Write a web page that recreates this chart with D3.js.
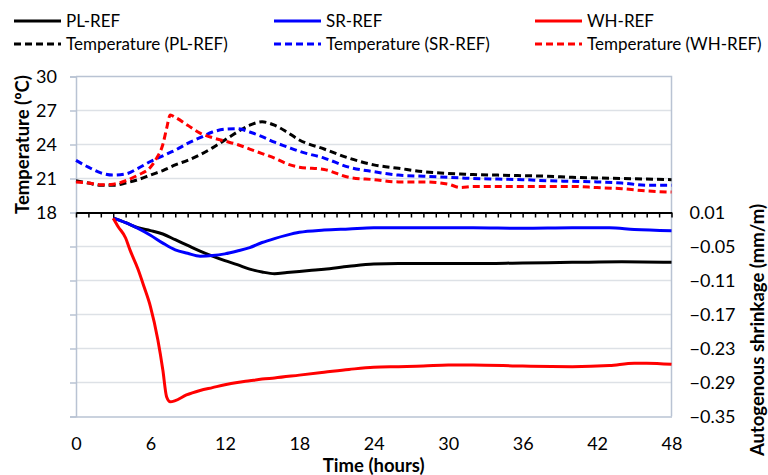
<!DOCTYPE html>
<html>
<head>
<meta charset="utf-8">
<script src="https://cdn.jsdelivr.net/npm/d3@7"></script>
<style>
  body { margin: 0; background: #fff; }
  svg text { font-family: Lato, "Open Sans", sans-serif; fill: #000; }
</style>
</head>
<body>
<div id="chart"></div>
<script>
// temperature (ºC), shared hours
var tempHours = [0, 1, 2, 3, 4, 5, 6, 6.5, 7, 7.3, 7.6, 8, 9, 10, 11, 12, 13, 14, 15, 16, 17, 18, 20, 22, 24, 26, 28, 30, 31, 32, 34, 36, 38, 40, 42, 44, 46, 48];
var tempPL = [20.8, 20.6, 20.4, 20.4, 20.6, 20.9, 21.3, 21.5, 21.7, 21.85, 22.0, 22.2, 22.6, 23.1, 23.7, 24.4, 25.1, 25.7, 26.0, 25.7, 25.1, 24.4, 23.6, 22.8, 22.2, 21.9, 21.6, 21.45, 21.4, 21.35, 21.3, 21.25, 21.2, 21.1, 21.05, 21.0, 20.95, 20.9];
var tempSR = [22.6, 22.0, 21.5, 21.3, 21.4, 21.9, 22.5, 22.75, 23.0, 23.15, 23.3, 23.5, 24.1, 24.6, 25.1, 25.35, 25.4, 25.1, 24.7, 24.2, 23.8, 23.4, 22.8, 22.0, 21.6, 21.3, 21.2, 21.1, 21.05, 21.0, 20.95, 20.9, 20.8, 20.75, 20.7, 20.6, 20.4, 20.4];
var tempWH = [20.7, 20.6, 20.45, 20.5, 20.8, 21.3, 22.0, 22.8, 24.0, 25.4, 26.6, 26.4, 25.7, 25.0, 24.6, 24.3, 24.0, 23.6, 23.2, 22.8, 22.3, 22.0, 21.8, 21.1, 20.9, 20.7, 20.7, 20.5, 20.2, 20.3, 20.3, 20.3, 20.3, 20.3, 20.2, 20.1, 19.9, 19.8];

// autogenous shrinkage (mm/m)
var plHours = [3, 4, 5, 6, 7, 8, 9, 10, 11, 12, 13, 14, 15, 16, 17, 18, 19, 20, 22, 24, 26, 28, 30, 32, 36, 40, 44, 48];
var plShrink = [0.0, -0.008, -0.017, -0.022, -0.028, -0.038, -0.048, -0.058, -0.067, -0.075, -0.082, -0.090, -0.095, -0.098, -0.096, -0.094, -0.092, -0.090, -0.085, -0.081, -0.080, -0.080, -0.080, -0.080, -0.079, -0.078, -0.077, -0.078];
var srHours = [3, 4, 5, 6, 7, 8, 9, 10, 11, 12, 13, 14, 15, 16, 17, 18, 20, 22, 24, 28, 32, 36, 40, 43, 45, 48];
var srShrink = [0.0, -0.008, -0.018, -0.030, -0.044, -0.056, -0.062, -0.067, -0.066, -0.063, -0.058, -0.052, -0.043, -0.036, -0.030, -0.025, -0.021, -0.019, -0.017, -0.017, -0.017, -0.018, -0.017, -0.017, -0.020, -0.022];
var whHours = [3, 3.4, 4, 4.35, 5, 5.5, 6, 6.6, 7, 7.3, 7.6, 8, 8.9, 10, 11, 12, 13, 14, 15, 16, 18, 20, 22, 24, 26, 28, 30, 32, 36, 40, 43, 45, 46, 48];
var whShrink = [0.0, -0.015, -0.035, -0.056, -0.090, -0.122, -0.156, -0.215, -0.268, -0.315, -0.324, -0.322, -0.312, -0.304, -0.299, -0.294, -0.290, -0.287, -0.284, -0.282, -0.277, -0.272, -0.267, -0.263, -0.262, -0.261, -0.259, -0.259, -0.261, -0.262, -0.260, -0.256, -0.256, -0.258];

var timeTicks = [0, 6, 12, 18, 24, 30, 36, 42, 48];
var tempTicks = [0, 3, 6, 9, 12, 15, 18, 21, 24, 27, 30];
var shrinkTicks = [0.01, -0.05, -0.11, -0.17, -0.23, -0.29, -0.35];

var series = [
  { name: "PL-REF", hours: plHours, vals: plShrink, color: "#000000", dash: null, axis: "s" },
  { name: "SR-REF", hours: srHours, vals: srShrink, color: "#0000ff", dash: null, axis: "s" },
  { name: "WH-REF", hours: whHours, vals: whShrink, color: "#ff0000", dash: null, axis: "s" },
  { name: "Temperature (PL-REF)", hours: tempHours, vals: tempPL, color: "#000000", dash: "7,4", axis: "t" },
  { name: "Temperature (SR-REF)", hours: tempHours, vals: tempSR, color: "#0000ff", dash: "7,4", axis: "t" },
  { name: "Temperature (WH-REF)", hours: tempHours, vals: tempWH, color: "#ff0000", dash: "7,4", axis: "t" }
];

var W = 768, H = 475;
var plotL = 76, plotR = 671.5, plotT = 76.5, plotB = 416.5;

var svg = d3.select("#chart").append("svg")
    .attr("width", W)
    .attr("height", H);

var x = d3.scaleLinear().domain([0, 48]).range([plotL, plotR]);
var yT = d3.scaleLinear().domain([0, 30]).range([plotB, plotT]);
var yS = d3.scaleLinear().domain([-0.35, 0.25]).range([plotB, plotT]);

// gridlines
svg.append("g")
    .selectAll("line")
    .data(tempTicks.filter(function (d) { return d > 0 && d < 30 && d != 18; }))
    .enter()
    .append("line")
    .attr("x1", plotL).attr("x2", plotR)
    .attr("y1", function (d) { return yT(d); })
    .attr("y2", function (d) { return yT(d); })
    .style("stroke", "#dde1e6")
    .style("stroke-width", 1.5);

// border (top + right)
svg.append("path")
    .attr("d", "M" + plotL + "," + plotT + "H" + plotR + "V" + plotB)
    .style("fill", "none")
    .style("stroke", "#b9c3d3")
    .style("stroke-width", 1.5);

// left axis
var yaxis = svg.append("g")
    .attr("transform", "translate(" + plotL + ",0)")
    .call(d3.axisLeft(yT).tickValues(tempTicks).tickSize(6).tickPadding(13)
        .tickFormat(function (d) { return d >= 18 ? d : ""; }));
yaxis.select(".domain").style("stroke", "#b9c3d3").style("stroke-width", 1.5);
yaxis.selectAll(".tick line").style("stroke", "#b9c3d3").style("stroke-width", 1.5);
yaxis.selectAll("text").style("font-size", "18px");

// right axis
var saxis = svg.append("g")
    .attr("transform", "translate(" + plotR + ",0)")
    .call(d3.axisRight(yS).tickValues(shrinkTicks).tickSize(0).tickPadding(18)
        .tickFormat(d3.format(".2f")));
saxis.select(".domain").remove();
saxis.selectAll("text").style("font-size", "18px");

// bottom axis labels
var xaxis = svg.append("g")
    .attr("transform", "translate(0," + plotB + ")")
    .call(d3.axisBottom(x).tickValues(timeTicks).tickSize(0).tickPadding(21));
xaxis.select(".domain").style("stroke", "#b9c3d3").style("stroke-width", 1.5);
xaxis.selectAll("text").style("font-size", "18px");

// lines
var line = function (s) {
  var yy = s.axis == "t" ? yT : yS;
  return d3.line()
      .x(function (d, i) { return x(s.hours[i]); })
      .y(function (d) { return yy(d); })
      .curve(d3.curveMonotoneX)(s.vals);
};
svg.append("g")
    .selectAll("path")
    .data(series)
    .enter()
    .append("path")
    .attr("d", line)
    .style("fill", "none")
    .style("stroke", function (d) { return d.color; })
    .style("stroke-width", 3)
    .style("stroke-dasharray", function (d) { return d.dash; })
    .style("stroke-linejoin", "round");

// middle time axis (black, hourly ticks)
var midaxis = svg.append("g")
    .attr("transform", "translate(0," + yT(18) + ")")
    .call(d3.axisBottom(x).tickValues(d3.range(0, 49, 1)).tickSize(5).tickSizeOuter(0).tickFormat(""));
midaxis.select(".domain").style("stroke", "#000").style("stroke-width", 2);
midaxis.selectAll(".tick line").style("stroke", "#000").style("stroke-width", 1.5);

// axis titles
svg.append("text")
    .attr("transform", "translate(23," + ((plotT + yT(18)) / 2) + ") rotate(-90)")
    .attr("dy", "0.35em")
    .style("text-anchor", "middle")
    .style("font-size", "18.5px")
    .style("font-weight", "bold")
    .text("Temperature (ºC)");
svg.append("text")
    .attr("transform", "translate(758,330) rotate(-90)")
    .attr("dy", "0.35em")
    .style("text-anchor", "middle")
    .style("font-size", "18.5px")
    .style("font-weight", "bold")
    .text("Autogenous shrinkage (mm/m)");
svg.append("text")
    .attr("x", (plotL + plotR) / 2)
    .attr("y", 466)
    .attr("dy", "0.35em")
    .style("text-anchor", "middle")
    .style("font-size", "18.5px")
    .style("font-weight", "bold")
    .text("Time (hours)");

// legend
var legX = [14, 274, 535];
var legY = [21, 44];
var leg = svg.append("g")
    .selectAll("g")
    .data(series)
    .enter()
    .append("g")
    .attr("transform", function (d, i) { return "translate(" + legX[i % 3] + "," + legY[Math.floor(i / 3)] + ")"; });
leg.append("line")
    .attr("x1", 0).attr("x2", 47)
    .style("stroke", function (d) { return d.color; })
    .style("stroke-width", 3)
    .style("stroke-dasharray", function (d) { return d.dash; });
leg.append("text")
    .attr("x", 52)
    .attr("dy", "0.35em")
    .style("font-size", "17px")
    .text(function (d) { return d.name; });
</script>
</body>
</html>
